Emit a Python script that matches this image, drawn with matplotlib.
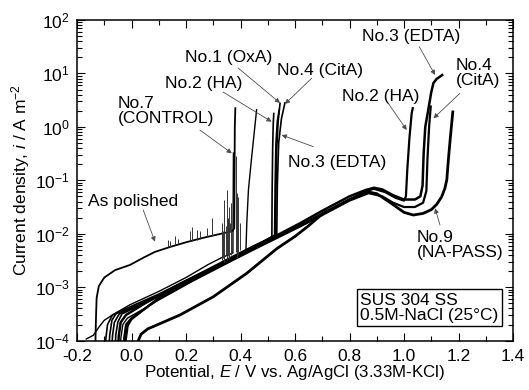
import numpy as np
import matplotlib
matplotlib.use('Agg')
import matplotlib.pyplot as plt
from matplotlib.ticker import MultipleLocator, LogLocator

plt.rcParams['font.family'] = ['Liberation Sans', 'DejaVu Sans']
plt.rcParams['mathtext.fontset'] = 'custom'
plt.rcParams['mathtext.rm'] = 'Liberation Sans'
plt.rcParams['mathtext.it'] = 'Liberation Sans:italic'
plt.rcParams['mathtext.default'] = 'regular'

# polarization curves: potential E (V) and log10 of current density (A m-2)
no1_E = [-0.085, -0.080, -0.072, -0.055, -0.006, 0.10, 0.178, 0.27, 0.361, 0.45, 0.528, 0.530, 0.533, 0.538, 0.545]
no1_log = [-4.3, -3.90, -3.62, -3.48, -3.37, -3.13, -2.93, -2.70, -2.47, -2.24, -2.02, -1.20, -0.40, 0.10, 0.44]

no2L_E = [-0.097, -0.094, -0.088, -0.070, -0.006, 0.10, 0.178, 0.27, 0.361, 0.45, 0.515, 0.516, 0.518, 0.520, 0.522]
no2L_log = [-4.3, -3.95, -3.70, -3.52, -3.40, -3.16, -2.96, -2.72, -2.49, -2.26, -2.06, -1.20, -0.40, 0.05, 0.25]

no3L_E = [-0.073, -0.070, -0.063, -0.045, -0.006, 0.10, 0.178, 0.27, 0.361, 0.45, 0.525, 0.527, 0.530, 0.535, 0.542]
no3L_log = [-4.3, -3.92, -3.66, -3.50, -3.41, -3.15, -2.95, -2.71, -2.48, -2.25, -2.03, -1.10, -0.30, 0.10, 0.32]

no4L_E = [-0.061, -0.058, -0.050, -0.035, -0.006, 0.10, 0.178, 0.27, 0.361, 0.45, 0.533, 0.535, 0.540, 0.550, 0.563]
no4L_log = [-4.3, -3.90, -3.65, -3.50, -3.43, -3.17, -2.97, -2.73, -2.50, -2.27, -2.04, -1.10, -0.30, 0.15, 0.45]

no7_E = [-0.166, -0.14, -0.12, -0.10, -0.07, -0.006, 0.10, 0.20, 0.28, 0.33, 0.372, 0.374]
no7_log = [-3.97, -3.90, -3.75, -3.62, -3.52, -3.33, -3.08, -2.82, -2.58, -2.45, -2.36, -0.49]

no8_E = [-0.042, -0.039, -0.032, -0.015, 0.04, 0.10, 0.178, 0.27, 0.361, 0.42, 0.423, 0.429, 0.441, 0.459]
no8_log = [-4.3, -3.95, -3.70, -3.58, -3.42, -3.24, -3.02, -2.75, -2.51, -2.30, -1.80, -1.18, -0.56, 0.32]

no2R_E = [-0.024, -0.021, -0.014, 0.0, 0.10, 0.178, 0.27, 0.361, 0.45, 0.545, 0.62, 0.70, 0.80, 0.86, 0.89, 0.93, 0.97, 1.00, 1.007, 1.012, 1.020, 1.028, 1.032]
no2R_log = [-4.3, -3.98, -3.72, -3.60, -3.20, -2.98, -2.74, -2.50, -2.27, -2.03, -1.84, -1.62, -1.36, -1.20, -1.16, -1.22, -1.33, -1.38, -1.30, -0.80, -0.20, 0.25, 0.35]

no3R_E = [-0.050, -0.047, -0.040, -0.020, 0.05, 0.178, 0.27, 0.361, 0.45, 0.545, 0.62, 0.70, 0.80, 0.86, 0.89, 0.92, 0.96, 1.00, 1.04, 1.060, 1.068, 1.072, 1.078, 1.089, 1.100, 1.108, 1.120, 1.132, 1.140]
no3R_log = [-4.3, -3.92, -3.66, -3.52, -3.30, -2.94, -2.70, -2.46, -2.23, -2.00, -1.80, -1.57, -1.30, -1.18, -1.14, -1.17, -1.28, -1.36, -1.36, -1.30, -1.10, -0.50, 0.00, 0.32, 0.65, 0.82, 0.90, 0.94, 0.97]

no4R_E = [-0.030, -0.027, -0.020, 0.0, 0.10, 0.178, 0.27, 0.361, 0.45, 0.545, 0.62, 0.70, 0.80, 0.87, 0.92, 0.96, 1.00, 1.04, 1.07, 1.082, 1.086, 1.092, 1.098]
no4R_log = [-4.3, -3.95, -3.70, -3.58, -3.22, -3.00, -2.76, -2.52, -2.29, -2.05, -1.86, -1.65, -1.38, -1.24, -1.30, -1.42, -1.50, -1.50, -1.42, -1.20, -0.60, 0.00, 0.38]

no9_E = [0.020, 0.025, 0.035, 0.060, 0.092, 0.178, 0.30, 0.423, 0.533, 0.60, 0.65, 0.70, 0.80, 0.87, 0.90, 0.95, 1.00, 1.034, 1.07, 1.10, 1.12, 1.138, 1.150, 1.157, 1.163, 1.170, 1.179]
no9_log = [-4.3, -4.00, -3.88, -3.78, -3.71, -3.52, -3.18, -2.74, -2.28, -2.05, -1.85, -1.63, -1.36, -1.22, -1.25, -1.42, -1.60, -1.65, -1.62, -1.55, -1.45, -1.31, -1.15, -0.99, -0.60, -0.20, 0.28]

polished_E = [-0.133, -0.132, -0.130, -0.128, -0.120, -0.100, -0.060, -0.006, 0.043, 0.086, 0.140, 0.200, 0.260, 0.337, 0.370, 0.377, 0.378, 0.379, 0.381]
polished_log = [-4.3, -3.90, -3.50, -3.20, -2.98, -2.82, -2.68, -2.585, -2.45, -2.34, -2.25, -2.16, -2.08, -1.99, -1.95, -1.90, -1.00, 0.00, 0.35]

# metastable pitting spikes: potential, base and top (log10 i)
pol_spk_E = [0.135, 0.141, 0.160, 0.172, 0.215, 0.221, 0.239, 0.251, 0.276, 0.294, 0.331, 0.355, 0.362]
pol_spk_lo = [-2.25, -2.24, -2.21, -2.20, -2.14, -2.13, -2.11, -2.10, -2.07, -2.05, -2.01, -1.98, -1.97]
pol_spk_hi = [-2.12, -2.13, -2.05, -2.10, -1.95, -1.87, -1.93, -1.95, -1.90, -1.71, -1.84, -1.74, -1.80]

ctl_spk_E = [0.331, 0.336, 0.341, 0.345, 0.349, 0.353, 0.358, 0.365, 0.382, 0.386, 0.392, 0.398]
ctl_spk_lo = [-2.50, -2.45, -2.52, -2.40, -2.50, -2.42, -2.48, -2.40, -2.35, -2.45, -2.40, -2.30]
ctl_spk_hi = [-1.80, -1.95, -1.37, -1.85, -1.18, -1.70, -1.50, -1.43, -0.55, -1.24, -1.31, -1.80]

curves = [(no1_E, no1_log, 1.2), (no2L_E, no2L_log, 1.2), (no3L_E, no3L_log, 1.2), (no4L_E, no4L_log, 1.2),
          (no7_E, no7_log, 1.0), (no8_E, no8_log, 1.0), (no2R_E, no2R_log, 1.6), (no3R_E, no3R_log, 1.8),
          (no4R_E, no4R_log, 1.6), (no9_E, no9_log, 2.0), (polished_E, polished_log, 1.3)]

fig, ax = plt.subplots()
fig.set_size_inches(5.29, 3.90)
fig.subplots_adjust(left=0.1456, right=0.9698, bottom=0.1267, top=0.9487)

for E, lg, w in curves:
    ax.plot(E, 10 ** np.array(lg), color='k', lw=w, solid_joinstyle='round')

ax.vlines(pol_spk_E, 10 ** np.array(pol_spk_lo), 10 ** np.array(pol_spk_hi), color='0.2', lw=0.7)
ax.vlines(ctl_spk_E, 10 ** np.array(ctl_spk_lo), 10 ** np.array(ctl_spk_hi), color='0.2', lw=0.7)

ax.set_yscale('log')
ax.set_xlim(-0.2, 1.4)
ax.set_ylim(1e-4, 1e2)
ax.xaxis.set_minor_locator(MultipleLocator(0.1))
ax.yaxis.set_major_locator(LogLocator(base=10, numticks=10))
ax.yaxis.set_minor_locator(LogLocator(base=10, subs=np.arange(2, 10), numticks=20))
ax.set_xticks(np.arange(-0.2, 1.41, 0.2))
ax.set_xticklabels(['%.1f' % v for v in np.arange(-0.2, 1.41, 0.2)])
ax.tick_params(which='both', direction='in', top=True, right=True, labelsize=12.5, width=0.8)
ax.tick_params(which='major', length=6, pad=5)
ax.tick_params(axis='x', which='major', pad=6)
ax.tick_params(which='minor', length=3.5)
for s in ax.spines.values():
    s.set_linewidth(1.1)

ax.set_xlabel(r'Potential, $\mathit{E}$ / V vs. Ag/AgCl (3.33M-KCl)', fontsize=12.2, labelpad=-1)
ax.set_ylabel(r'Current density, $\mathit{i}$ / A m$^{-2}$', fontsize=12.5, labelpad=2)

arr = dict(arrowstyle='-|>', lw=0.6, color='0.3', mutation_scale=7, shrinkA=0, shrinkB=0)
fs = 12.5
def lbl(txt, xy, xytext, tail):
    ax.text(xytext[0], 10 ** xytext[1], txt, fontsize=fs, ha='left', va='center', linespacing=1.0)
    ax.annotate('', xy=(xy[0], 10 ** xy[1]), xytext=(tail[0], 10 ** tail[1]), arrowprops=arr)

lbl('No.1 (OxA)', (0.545, 0.447), (0.196, 1.289), (0.391, 1.102))
lbl('No.2 (HA)', (0.514, 0.097), (0.123, 0.821), (0.336, 0.652))
lbl('No.7\n(CONTROL)', (0.368, -0.495), (-0.05, 0.297), (0.251, -0.059))
lbl('No.4 (CitA)', (0.563, 0.428), (0.534, 1.064), (0.661, 0.909))
lbl('No.3 (EDTA)', (0.551, -0.152), (0.574, -0.658), (0.667, -0.371))
lbl('No.3 (EDTA)', (1.114, 0.971), (0.846, 1.682), (1.056, 1.50))
lbl('No.4\n(CitA)', (1.108, 0.16), (1.191, 1.017), (1.205, 0.628))
lbl('No.2 (HA)', (1.01, -0.059), (0.772, 0.559), (0.942, 0.441))
lbl('As polished', (0.086, -2.149), (-0.16, -1.388), (0.043, -1.556))
lbl('No.9\n(NA-PASS)', (1.114, -1.524), (1.048, -2.211), (1.132, -1.837))

ax.text(0.839, 10 ** -3.381, 'SUS 304 SS\n0.5M-NaCl (25\u00b0C)', fontsize=fs, ha='left', va='center',
        linespacing=1.0, bbox=dict(boxstyle='square,pad=0.2', fc='white', ec='k', lw=1.0))

fig.savefig('out.png', dpi=100)
